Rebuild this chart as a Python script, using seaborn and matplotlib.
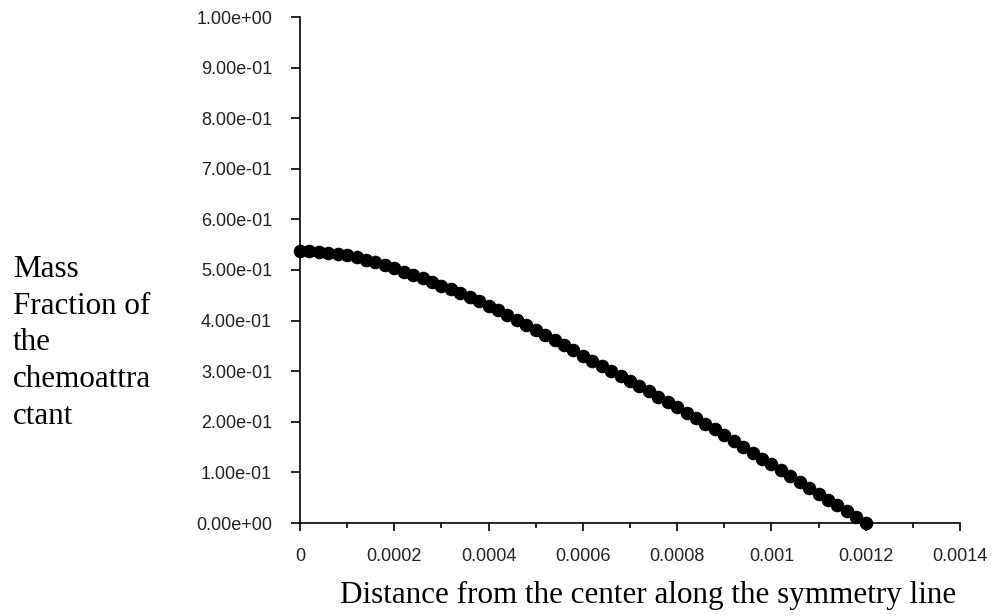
import matplotlib
matplotlib.use("Agg")
import matplotlib.pyplot as plt
import seaborn as sns
import pandas as pd
from matplotlib.ticker import FixedLocator, FixedFormatter, MultipleLocator

# ---- data ----
distance = [
    0.0, 0.00002, 0.00004, 0.00006, 0.00008, 0.0001, 0.00012, 0.00014, 0.00016, 0.00018,
    0.0002, 0.00022, 0.00024, 0.00026, 0.00028, 0.0003, 0.00032, 0.00034, 0.00036, 0.00038,
    0.0004, 0.00042, 0.00044, 0.00046, 0.00048, 0.0005, 0.00052, 0.00054, 0.00056, 0.00058,
    0.0006, 0.00062, 0.00064, 0.00066, 0.00068, 0.0007, 0.00072, 0.00074, 0.00076, 0.00078,
    0.0008, 0.00082, 0.00084, 0.00086, 0.00088, 0.0009, 0.00092, 0.00094, 0.00096, 0.00098,
    0.001, 0.00102, 0.00104, 0.00106, 0.00108, 0.0011, 0.00112, 0.00114, 0.00116, 0.00118,
    0.0012,
]
mass_fraction = [
    0.537, 0.537, 0.536, 0.534, 0.532, 0.529, 0.525, 0.520, 0.515, 0.509,
    0.503, 0.497, 0.490, 0.484, 0.477, 0.469, 0.462, 0.454, 0.446, 0.438,
    0.429, 0.420, 0.411, 0.401, 0.391, 0.381, 0.371, 0.361, 0.351, 0.341,
    0.331, 0.321, 0.311, 0.301, 0.291, 0.281, 0.271, 0.261, 0.250, 0.240,
    0.229, 0.218, 0.207, 0.196, 0.185, 0.173, 0.162, 0.150, 0.139, 0.127,
    0.116, 0.104, 0.093, 0.081, 0.069, 0.058, 0.046, 0.035, 0.023, 0.012,
    0.000,
]
x_ticks = [0.0, 0.0002, 0.0004, 0.0006, 0.0008, 0.001, 0.0012, 0.0014]
x_tick_labels = ["0", "0.0002", "0.0004", "0.0006", "0.0008", "0.001", "0.0012", "0.0014"]
y_ticks = [0.0, 0.1, 0.2, 0.3, 0.4, 0.5, 0.6, 0.7, 0.8, 0.9, 1.0]
y_tick_labels = ["0.00e+00", "1.00e-01", "2.00e-01", "3.00e-01", "4.00e-01", "5.00e-01",
                 "6.00e-01", "7.00e-01", "8.00e-01", "9.00e-01", "1.00e+00"]
x_label = "Distance from the center along the symmetry line"
y_label = "Mass\nFraction of\nthe\nchemoattra\nctant"

df = pd.DataFrame({"distance": distance, "mass_fraction": mass_fraction})

sns.set_style("white")
plt.rcParams["font.family"] = ["Liberation Sans", "DejaVu Sans"]

W, H = 993, 616
fig = plt.figure(figsize=(W / 100, H / 100), dpi=100)
ax = fig.add_axes([300 / W, 1 - 523 / H, (960 - 300) / W, (523 - 17) / H])

sns.lineplot(data=df, x="distance", y="mass_fraction", ax=ax, color="black",
             marker="o", markersize=9, markeredgecolor="black", linewidth=2,
             clip_on=False, zorder=3)

ax.set_xlim(0, 0.0014)
ax.set_ylim(0, 1.0)
ax.xaxis.set_major_locator(FixedLocator(x_ticks))
ax.xaxis.set_major_formatter(FixedFormatter(x_tick_labels))
ax.xaxis.set_minor_locator(MultipleLocator(0.0001))
ax.yaxis.set_major_locator(FixedLocator(y_ticks))
ax.yaxis.set_major_formatter(FixedFormatter(y_tick_labels))

for s in ["top", "right"]:
    ax.spines[s].set_visible(False)
for s in ["left", "bottom"]:
    ax.spines[s].set_color("black")
    ax.spines[s].set_linewidth(1.2)

ax.tick_params(axis="x", which="major", direction="out", length=6, width=1.2,
               color="black", labelsize=13, labelcolor="#222222", pad=12, bottom=True)
ax.tick_params(axis="x", which="minor", direction="out", length=3.5, width=1.2,
               color="black", bottom=True)
ax.tick_params(axis="y", which="major", direction="out", length=6.5, width=1.2,
               color="black", labelsize=13, labelcolor="#222222", pad=13.5, left=True)
ax.set_xlabel("")
ax.set_ylabel("")
ax.grid(False)

fig.text(13 / W, 1 - 255 / H, y_label, ha="left", va="top",
         family=["Liberation Serif", "DejaVu Serif"], fontsize=22.4,
         linespacing=1.35, color="black")
fig.text(340 / W, 1 - 603 / H, x_label, ha="left", va="baseline",
         family=["Liberation Serif", "DejaVu Serif"], fontsize=22.4, color="black")

fig.savefig("out.png", dpi=100, facecolor="white")
